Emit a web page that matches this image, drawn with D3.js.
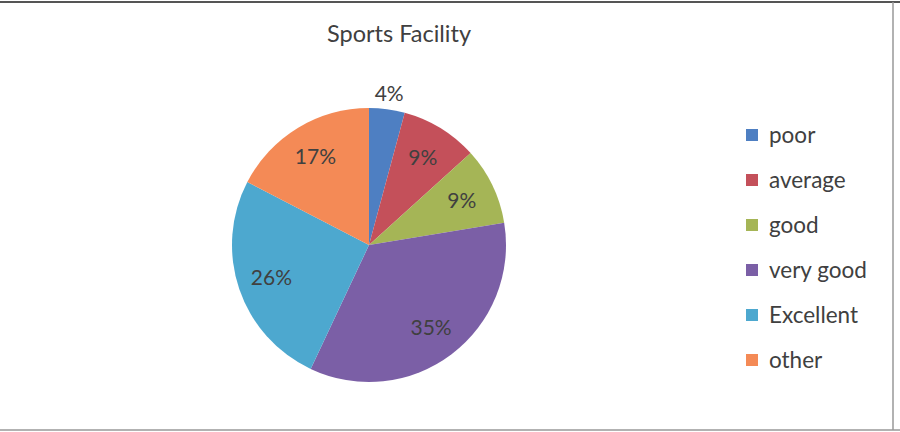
<!DOCTYPE html>
<html><head><meta charset="utf-8">
<script src="https://cdn.jsdelivr.net/npm/d3@7"></script>
<style>
html,body{margin:0;padding:0;background:#fff;}
svg{display:block;}
text{font-family:Lato,"Open Sans",sans-serif;}
</style></head>
<body>
<svg id="chart" width="900" height="432"></svg>
<script>
const title = "Sports Facility";
const categories = ["poor", "average", "good", "very good", "Excellent", "other"];
const values = [4.2, 9.1, 9.1, 34.6, 25.6, 17.4];
const colors = ["#4e7fc2", "#c4505a", "#a5b556", "#7b5fa6", "#4da8cf", "#f48a56"];

const svg = d3.select("#chart");
const W = 900, H = 432;
svg.append("rect").attr("x",0).attr("y",0).attr("width",W).attr("height",H).attr("fill","#fff");
// frame
svg.append("line").attr("x1",0).attr("x2",W).attr("y1",2).attr("y2",2).attr("stroke","#555").attr("stroke-width",2);
svg.append("line").attr("x1",0).attr("x2",W).attr("y1",430).attr("y2",430).attr("stroke","#999").attr("stroke-width",1.5);
svg.append("line").attr("x1",893).attr("x2",893).attr("y1",2).attr("y2",430).attr("stroke","#999").attr("stroke-width",1.5);

svg.append("text").attr("x",399).attr("y",42).attr("text-anchor","middle")
  .attr("font-size",23.5).attr("fill","#404040").text(title);

const cx = 369, cy = 245, R = 137;
const total = d3.sum(values);
const data = categories.map((c,i)=>({cat:c, value:values[i], color:colors[i]}));
const pie = d3.pie().value(d=>d.value).sort(null);
const arcs = pie(data);
const arc = d3.arc().innerRadius(0).outerRadius(R);
const g = svg.append("g").attr("transform",`translate(${cx},${cy})`);
g.selectAll("path").data(arcs).enter().append("path")
  .attr("d",arc).attr("fill",d=>d.data.color);

const labelArc = d3.arc().innerRadius(103).outerRadius(103);
const outerArc = d3.arc().innerRadius(153).outerRadius(153);
g.selectAll("text.lbl").data(arcs).enter().append("text")
  .attr("class","lbl")
  .attr("transform",(d,i)=>{
    const p = (i===0 ? outerArc : labelArc).centroid(d);
    return `translate(${p[0]},${p[1]})`;
  })
  .attr("text-anchor","middle").attr("dy","0.35em")
  .attr("font-size",21).attr("fill","#404040")
  .text(d=>Math.round(d.data.value/total*100)+"%");

const leg = svg.append("g");
const items = leg.selectAll("g").data(data).enter().append("g")
  .attr("transform",(d,i)=>`translate(746,${135+i*45})`);
items.append("rect").attr("x",0).attr("y",-6).attr("width",12).attr("height",12).attr("fill",d=>d.color);
items.append("text").attr("x",23).attr("y",0).attr("dy","0.35em")
  .attr("font-size",22.5).attr("fill","#404040").text(d=>d.cat);
</script>
</body></html>
